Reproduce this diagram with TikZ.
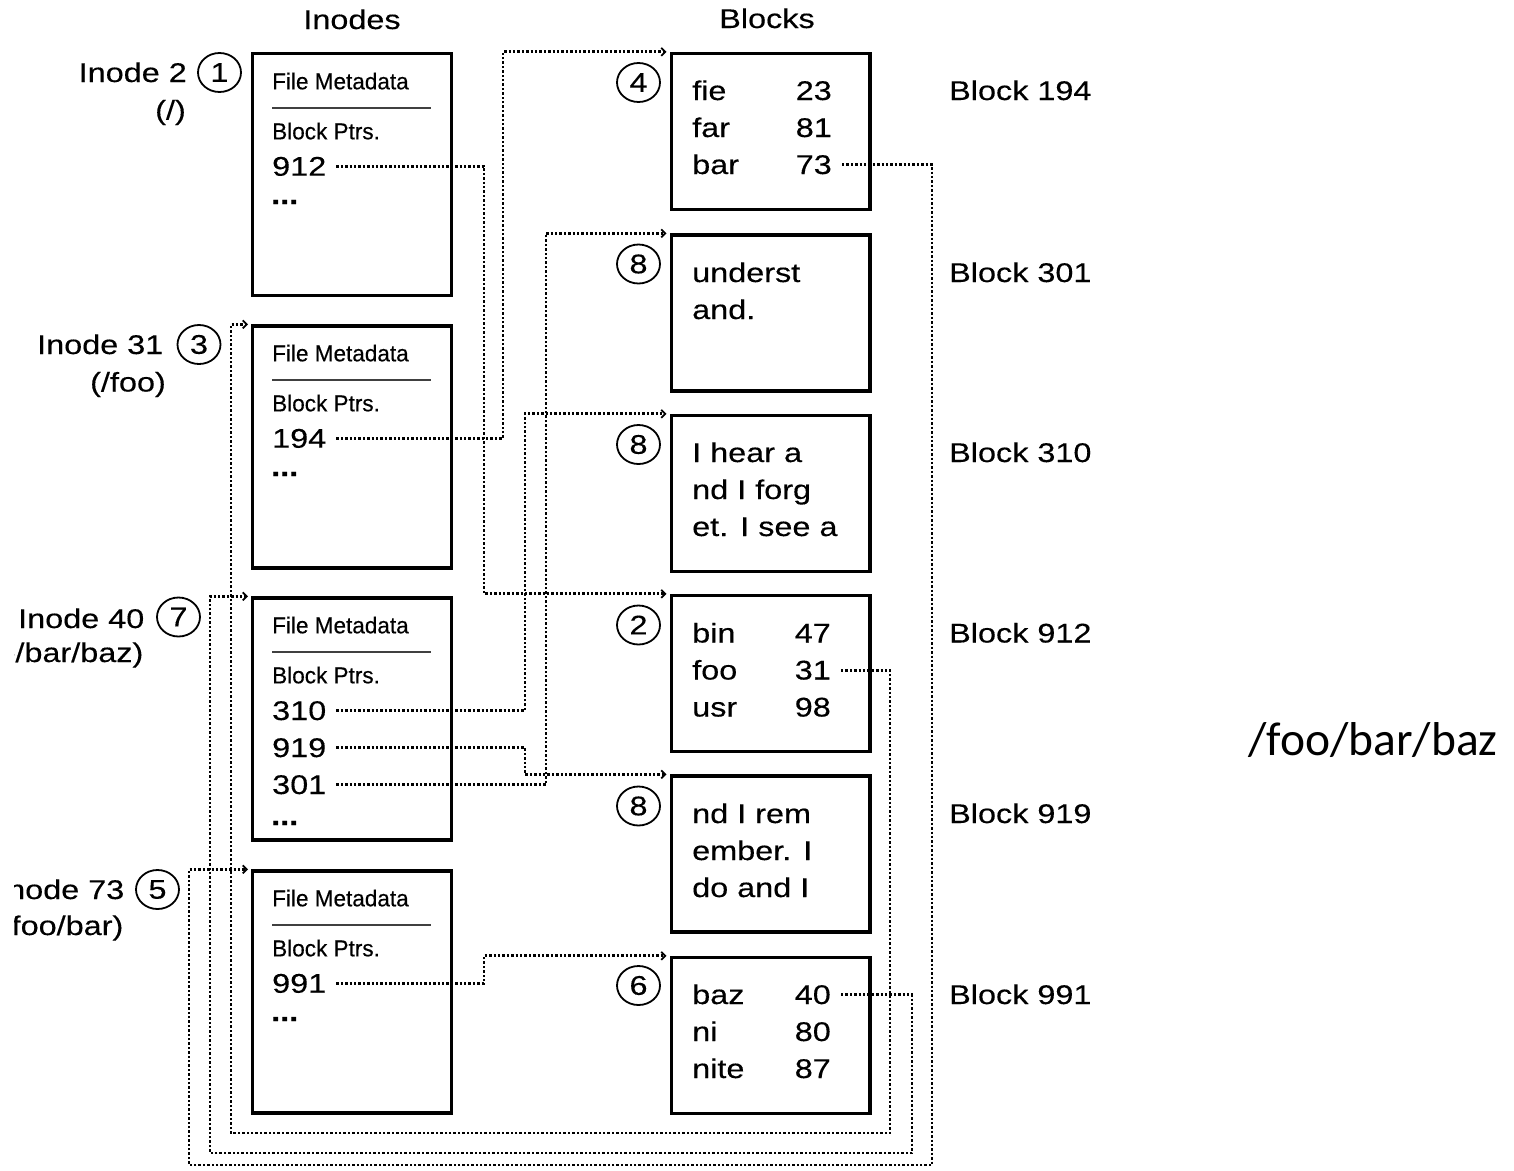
\documentclass[tikz,border=0pt]{standalone}
\usepackage{fontspec}
\setmainfont{Liberation Sans}
\newfontfamily\mf[FakeStretch=1.2,FakeBold=0.3]{Liberation Sans}
\newfontfamily\nf[FakeStretch=0.98,FakeBold=0.4]{Liberation Sans}
\newfontfamily\cf{Carlito}
\usetikzlibrary{arrows.meta,shapes.geometric}
\begin{document}
\begin{tikzpicture}[x=1pt,y=-1pt,
  inodebox/.style={draw,line width=3.4pt,minimum width=198.6pt,minimum height=242pt,inner sep=0pt},
  blockbox/.style={draw,line width=3.4pt,minimum width=198.6pt,minimum height=156pt,inner sep=0pt},
  txt/.style={inner sep=0pt,anchor=base west,font=\mf\fontsize{27}{32}\selectfont},
  rtxt/.style={inner sep=0pt,anchor=base east,font=\mf\fontsize{27}{32}\selectfont},
  ctxt/.style={inner sep=0pt,anchor=base,font=\mf\fontsize{27}{32}\selectfont},
  ntxt/.style={inner sep=0pt,anchor=base west,font=\nf\fontsize{23}{28}\selectfont},
  dtxt/.style={inner sep=0pt,anchor=base west,font=\mf\bfseries\fontsize{27}{32}\selectfont},
  circ/.style={ellipse,draw,line width=1.8pt,minimum width=43pt,minimum height=39pt,inner sep=0pt,font=\mf\fontsize{27}{32}\selectfont},
  sepline/.style={line width=1.3pt,black!75},
  ptr/.style={line width=2.8pt,dash pattern=on 2.4pt off 2pt,shorten <=10pt,shorten >=3pt,
    -{Straight Barb[length=4pt,width=8pt,line width=1.8pt]}}
]
\useasboundingbox (0,0) rectangle (1514,1170);

% headings
\node[ctxt] (hin) at (352,29) {Inodes};
\node[ctxt] (hbl) at (767,28) {Blocks};

% inode boxes
\node[inodebox] (i2) at (352,174.5) {};
\node[inodebox] (i31) at (352,447) {};
\node[inodebox] (i40) at (352,719) {};
\node[inodebox] (i73) at (352,992) {};

% inode 2 content
\node[ntxt] (i2m) at (272,89.3) {File Metadata};
\draw[sepline] (272,108) coordinate (i2sa) -- (431,108) coordinate (i2sb);
\node[ntxt] (i2p) at (272,139.3) {Block Ptrs.};
\node[txt] (p912) at (272,175.7) {912};
\node[dtxt] (i2d) at (271,204) {...};

% inode 31 content
\node[ntxt] (i31m) at (272,361.3) {File Metadata};
\draw[sepline] (272,380) coordinate (i31sa) -- (431,380) coordinate (i31sb);
\node[ntxt] (i31p) at (272,411.3) {Block Ptrs.};
\node[txt] (p194) at (272,447.7) {194};
\node[dtxt] (i31d) at (271,476) {...};

% inode 40 content
\node[ntxt] (i40m) at (272,633.3) {File Metadata};
\draw[sepline] (272,652) coordinate (i40sa) -- (431,652) coordinate (i40sb);
\node[ntxt] (i40p) at (272,683.3) {Block Ptrs.};
\node[txt] (p310) at (272,720) {310};
\node[txt] (p919) at (272,757) {919};
\node[txt] (p301) at (272,794) {301};
\node[dtxt] (i40d) at (271,825) {...};

% inode 73 content
\node[ntxt] (i73m) at (272,906.3) {File Metadata};
\draw[sepline] (272,925) coordinate (i73sa) -- (431,925) coordinate (i73sb);
\node[ntxt] (i73p) at (272,956.3) {Block Ptrs.};
\node[txt] (p991) at (272,992.7) {991};
\node[dtxt] (i73d) at (271,1021) {...};

% inode labels (clipped at left edge, as in the reference)
\begin{scope}
\clip (14,0) rectangle (1514,1170);
\node[rtxt] (l2a) at (187,82) {Inode 2};
\node[rtxt] (l2b) at (186,119.5) {(/)};
\node[rtxt] (l31a) at (163.5,354) {Inode 31};
\node[rtxt] (l31b) at (166,391.5) {(/foo)};
\node[rtxt] (l40a) at (144.5,628) {Inode 40};
\node[rtxt] (l40b) at (143.5,662) {(/foo/bar/baz)};
\node[rtxt] (l73a) at (124.5,899) {Inode 73};
\node[rtxt] (l73b) at (123.5,935) {(/foo/bar)};
\end{scope}

% inode circles
\node[circ] (c1) at (219.5,72.5) {1};
\node[circ] (c3) at (199,344.5) {3};
\node[circ] (c7) at (178.5,617) {7};
\node[circ] (c5) at (157.5,889.5) {5};

% block boxes
\node[blockbox] (b194) at (770.5,131.5) {};
\node[blockbox] (b301) at (770.5,313) {};
\node[blockbox] (b310) at (770.5,493.5) {};
\node[blockbox] (b912) at (770.5,673.5) {};
\node[blockbox] (b919) at (770.5,854) {};
\node[blockbox] (b991) at (770.5,1035.5) {};

% block circles
\node[circ] (c4) at (638.5,82.5) {4};
\node[circ] (c8a) at (638.5,264) {8};
\node[circ] (c8b) at (638.5,444.5) {8};
\node[circ] (c2) at (638.5,625) {2};
\node[circ] (c8c) at (638.5,806) {8};
\node[circ] (c6) at (638.5,985.5) {6};

% block 194
\node[txt] (f1) at (692,100) {fie};
\node[rtxt] (n23) at (832,100) {23};
\node[txt] (f2) at (692,137) {far};
\node[rtxt] (n81) at (832,137) {81};
\node[txt] (f3) at (692,174) {bar};
\node[rtxt] (n73) at (832,174) {73};
% block 301
\node[txt] (u1) at (692,282) {underst};
\node[txt] (u2) at (692,319) {and.};
% block 310
\node[txt] (h1) at (692,462) {I hear a};
\node[txt] (h2) at (692,499) {nd I forg};
\node[txt] (h3) at (692,536) {et. I see a};
% block 912
\node[txt] (g1) at (692,642.5) {bin};
\node[rtxt] (n47) at (831,642.5) {47};
\node[txt] (g2) at (692,679.5) {foo};
\node[rtxt] (n31) at (831,679.5) {31};
\node[txt] (g3) at (692,716.5) {usr};
\node[rtxt] (n98) at (831,716.5) {98};
% block 919
\node[txt] (r1) at (692,823) {nd I rem};
\node[txt] (r2) at (692,860) {ember. I};
\node[txt] (r3) at (692,897) {do and I};
% block 991
\node[txt] (z1) at (692,1004) {baz};
\node[rtxt] (n40) at (831,1004) {40};
\node[txt] (z2) at (692,1041) {ni};
\node[rtxt] (n80) at (831,1041) {80};
\node[txt] (z3) at (692,1078) {nite};
\node[rtxt] (n87) at (831,1078) {87};

% block labels
\node[txt] (lb194) at (949,100) {Block 194};
\node[txt] (lb301) at (949,282) {Block 301};
\node[txt] (lb310) at (949,462) {Block 310};
\node[txt] (lb912) at (949,642.5) {Block 912};
\node[txt] (lb919) at (949,823) {Block 919};
\node[txt] (lb991) at (949,1004) {Block 991};

% path label
\node[inner sep=0pt,anchor=base west,font=\cf\fontsize{47.5}{56}\selectfont] (path) at (1248,755) {/foo/bar/baz};

% routing coordinates
\coordinate (xA) at (484,0);
\coordinate (xB) at (503,0);
\coordinate (xC) at (525,0);
\coordinate (xD) at (546,0);
\coordinate (xE) at (890,0);
\coordinate (xF) at (912,0);
\coordinate (xG) at (932,0);
\coordinate (yE) at (0,1133);
\coordinate (yF) at (0,1153);
\coordinate (yG) at (0,1165);
\coordinate (xL1) at (231,0);
\coordinate (xL2) at (210,0);
\coordinate (xL3) at (189,0);

% connectors: inode pointers to blocks
\draw[ptr] (p912.east) -| (xA |- b912.north west) -- (b912.north west);
\draw[ptr] (p194.east) -| (xB |- b194.north west) -- (b194.north west);
\draw[ptr] (p310.east) -| (xC |- b310.north west) -- (b310.north west);
\draw[ptr] (p919.east) -| (xC |- b919.north west) -- (b919.north west);
\draw[ptr] (p301.east) -| (xD |- b301.north west) -- (b301.north west);
\draw[ptr] (p991.east) -| (xA |- b991.north west) -- (b991.north west);

% connectors: directory entries to inodes
\draw[ptr] (n31.east) -| (xE |- yE) -| (xL1 |- i31.north west) -- (i31.north west);
\draw[ptr] (n40.east) -| (xF |- yF) -| (xL2 |- i40.north west) -- (i40.north west);
\draw[ptr] (n73.east) -| (xG |- yG) -| (xL3 |- i73.north west) -- (i73.north west);
\end{tikzpicture}
\end{document}
